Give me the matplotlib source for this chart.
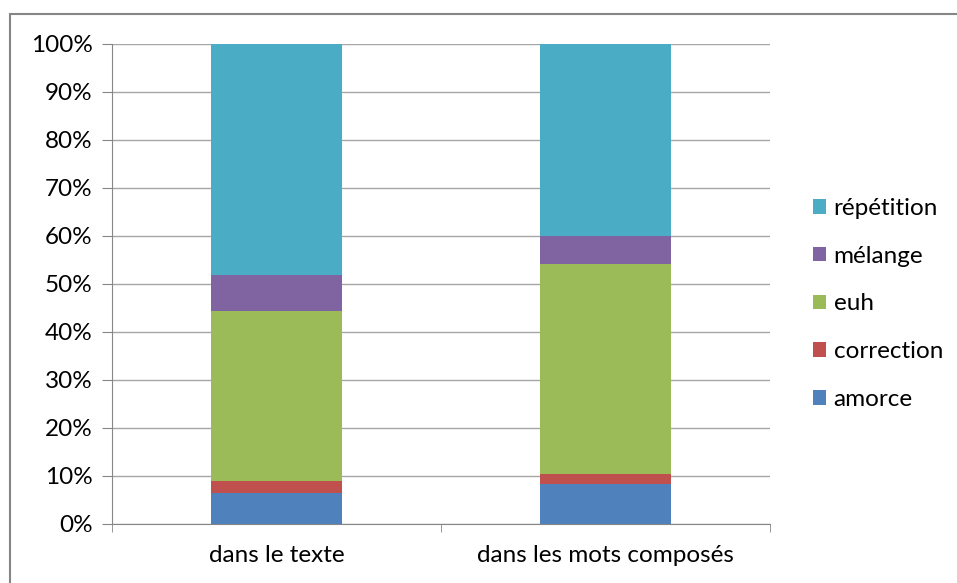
import matplotlib
matplotlib.use("Agg")
import matplotlib.pyplot as plt
from matplotlib.patches import Rectangle
from matplotlib.ticker import FuncFormatter, MultipleLocator
import numpy as np

plt.rcParams['font.family'] = ['Lato', 'DejaVu Sans']

categories = ['dans le texte', 'dans les mots composés']
series = ['amorce', 'correction', 'euh', 'mélange', 'répétition']
amorce = [6.4, 8.3]
correction = [2.5, 2.1]
euh = [35.5, 43.7]
melange = [7.5, 6.0]
repetition = [48.1, 39.9]
colors = ['#4F81BD', '#C0504D', '#9BBB59', '#8064A2', '#4BACC6']

fig = plt.figure(figsize=(9.57, 5.83), dpi=100)
ax = fig.add_axes([112 / 957, 1 - 524 / 583, 658 / 957, 480 / 583])

# outer chart frame
fig.patches.append(Rectangle((10 / 957, -0.05), 1.0, 1 - 14 / 583 + 0.05,
                             transform=fig.transFigure, fill=False,
                             edgecolor='#868686', linewidth=1.5))

x = np.arange(len(categories))
values = [amorce, correction, euh, melange, repetition]
totals = np.sum(values, axis=0)
bottom = np.zeros(len(categories))
handles = []
for name, vals, col in zip(series, values, colors):
    pct = np.array(vals) / totals * 100
    h = ax.bar(x, pct, 0.4, bottom=bottom, color=col, label=name, zorder=3)
    handles.append(h)
    bottom += pct

ax.set_xlim(-0.5, 1.5)
ax.set_ylim(0, 100)
ax.yaxis.set_major_locator(MultipleLocator(10))
ax.yaxis.set_major_formatter(FuncFormatter(lambda v, p: '%d%%' % v))
ax.grid(axis='y', color='#a6a6a6', linewidth=1, zorder=0)
ax.set_xticks(x)
ax.set_xticklabels(categories)
ax.set_xticks([-0.5, 0.5, 1.5], minor=True)
ax.tick_params(axis='x', which='major', length=0, pad=15, labelsize=17.5)
ax.tick_params(axis='x', which='minor', length=6, color='#868686')
ax.tick_params(axis='y', length=7, color='#868686', labelsize=17.5, pad=7)
for s in ['top', 'right']:
    ax.spines[s].set_visible(False)
for s in ['left', 'bottom']:
    ax.spines[s].set_color('#868686')

leg = fig.legend(handles[::-1], series[::-1], loc='center left',
                 bbox_to_anchor=(813 / 957, 1 - 304 / 583), frameon=False,
                 fontsize=17.5, handlelength=0.55, handleheight=0.55,
                 handletextpad=0.3, labelspacing=1.1, borderaxespad=0,
                 borderpad=0)

fig.savefig('out.png', dpi=100)
